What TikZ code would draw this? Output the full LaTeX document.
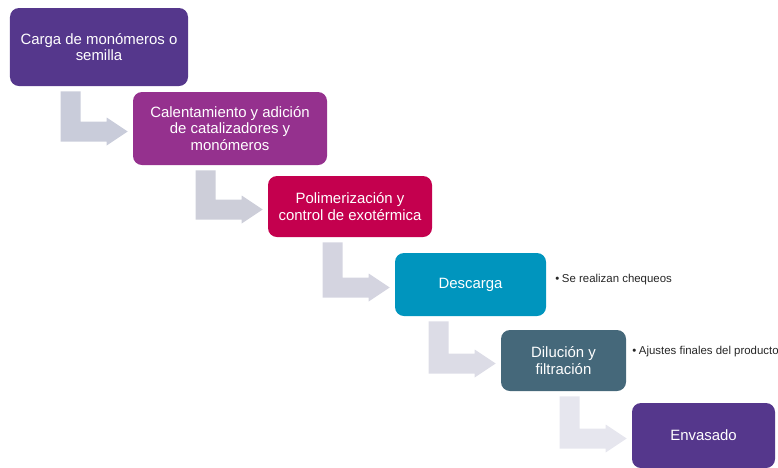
\documentclass[tikz,border=0pt]{standalone}
\usepackage{fontspec}
\setmainfont{Liberation Sans}
\usetikzlibrary{calc}

\definecolor{cargaPurple}{HTML}{55378C}
\definecolor{calentMagenta}{HTML}{95318E}
\definecolor{polimCrimson}{HTML}{C4004E}
\definecolor{descargaBlue}{HTML}{0095BE}
\definecolor{dilucionSlate}{HTML}{45687A}
\definecolor{arrowA}{HTML}{C9CCDA}
\definecolor{arrowB}{HTML}{CDCED9}
\definecolor{arrowC}{HTML}{D4D4E0}
\definecolor{arrowD}{HTML}{DCDCE6}
\definecolor{arrowE}{HTML}{E6E6EE}

\tikzset{
    stepbox/.style = {rectangle, rounded corners = 0.18cm, text = white, align = center,
        inner sep = 2pt, font = \fontsize{8.5}{9.6}\selectfont},
    note/.style = {anchor = west, inner sep = 0pt, text = black!85,
        font = \fontsize{6.5}{7.5}\selectfont}
}

\begin{document}
\begin{tikzpicture}
                \useasboundingbox (0, 0) rectangle (15.56, -9.34);
                \node[stepbox, fill = cargaPurple, minimum width = 3.56cm, minimum height = 1.56cm] (b1) at (1.98, -0.94) {Carga de monómeros o\\semilla};
                \node[stepbox, fill = calentMagenta, minimum width = 3.88cm, minimum height = 1.46cm] (b2) at (4.60, -2.57) {Calentamiento y adición\\de catalizadores y\\monómeros};
                \node[stepbox, fill = polimCrimson, minimum width = 3.28cm, minimum height = 1.22cm] (b3) at (7.00, -4.13) {Polimerización y\\control de exotérmica};
                \node[stepbox, fill = descargaBlue, minimum width = 3.02cm, minimum height = 1.26cm] (b4) at (9.41, -5.69) {Descarga};
                \node[stepbox, fill = dilucionSlate, minimum width = 2.50cm, minimum height = 1.22cm] (b5) at (11.27, -7.21) {Dilución y\\filtración};
                \node[stepbox, fill = cargaPurple, minimum width = 2.86cm, minimum height = 1.30cm] (b6) at (14.07, -8.71) {Envasado};
                % bent block arrows between the steps
                \foreach \a/\b/\c in {b1/b2/arrowA, b2/b3/arrowB, b3/b4/arrowC, b4/b5/arrowD, b5/b6/arrowE}{
                    \fill[\c] let \p1 = (\a.south), \p2 = (\b.west) in
                        ({\x2 - 1.44cm}, {\y1 - 0.1cm}) -- ({\x2 - 1.04cm}, {\y1 - 0.1cm})
                        -- ({\x2 - 1.04cm}, {\y2 + 0.14cm}) -- ({\x2 - 0.52cm}, {\y2 + 0.14cm})
                        -- ({\x2 - 0.52cm}, {\y2 + 0.22cm}) -- ({\x2 - 0.1cm}, {\y2 - 0.06cm})
                        -- ({\x2 - 0.52cm}, {\y2 - 0.34cm}) -- ({\x2 - 0.52cm}, {\y2 - 0.26cm})
                        -- ({\x2 - 1.44cm}, {\y2 - 0.26cm}) -- cycle;
                }
                \node[note] (n4) at (11.10, -5.60) {\textbullet\hspace{1.5pt}Se realizan chequeos};
                \node[note] (n5) at (12.64, -7.04) {\textbullet\hspace{1.5pt}Ajustes finales del producto};
            \end{tikzpicture}
\end{document}
